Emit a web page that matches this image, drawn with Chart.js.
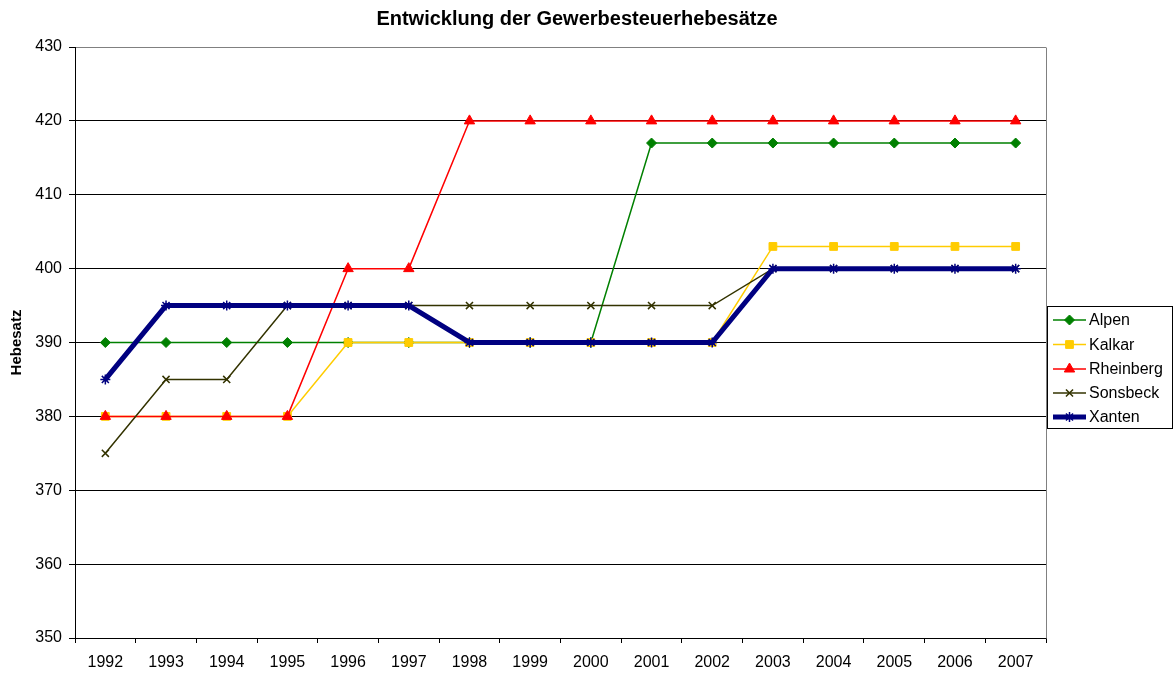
<!DOCTYPE html>
<html>
<head>
<meta charset="utf-8">
<script src="https://cdn.jsdelivr.net/npm/chart.js@4/dist/chart.umd.min.js"></script>
<style>
  html, body { margin: 0; padding: 0; background: #ffffff; }
  #wrap { width: 1175px; height: 673px; position: relative; }
</style>
</head>
<body>
<div id="wrap"><canvas id="c" width="1175" height="673"></canvas></div>
<script>
// ---- Data ----
const years = ['1992','1993','1994','1995','1996','1997','1998','1999','2000','2001','2002','2003','2004','2005','2006','2007'];
const alpen     = [390,390,390,390,390,390,390,390,390,417,417,417,417,417,417,417];
const kalkar    = [380,380,380,380,390,390,390,390,390,390,390,403,403,403,403,403];
const rheinberg = [380,380,380,380,400,400,420,420,420,420,420,420,420,420,420,420];
const sonsbeck  = [375,385,385,395,395,395,395,395,395,395,395,400,400,400,400,400];
const xanten    = [385,395,395,395,395,395,390,390,390,390,390,400,400,400,400,400];
const seriesNames = ['Alpen','Kalkar','Rheinberg','Sonsbeck','Xanten'];
const yTicks = [350,360,370,380,390,400,410,420,430];
const chartTitle = 'Entwicklung der Gewerbesteuerhebesätze';
const yTitle = 'Hebesatz';

const FONT = '"Liberation Sans", Arial, sans-serif';

const styles = [
  { color: '#008000', width: 1.5, pointStyle: 'rectRot',  radius: 5,   pbw: 1,   order: 4 },
  { color: '#FFCC00', width: 1.5, pointStyle: 'rect',     radius: 5.5, pbw: 1,   order: 3 },
  { color: '#FF0000', width: 1.5, pointStyle: 'triangle', radius: 6,   pbw: 1,   order: 2 },
  { color: '#333300', width: 1.5, pointStyle: 'crossRot', radius: 5,   pbw: 1.5, order: 1 },
  { color: '#000080', width: 5,   pointStyle: 'star',     radius: 5,   pbw: 1.5, order: 0 }
];
const seriesData = [alpen, kalkar, rheinberg, sonsbeck, xanten];

const datasets = seriesNames.map((name, i) => ({
  label: name,
  data: seriesData[i],
  borderColor: styles[i].color,
  backgroundColor: styles[i].color,
  borderWidth: styles[i].width,
  pointStyle: styles[i].pointStyle,
  pointRadius: styles[i].radius,
  pointHoverRadius: styles[i].radius,
  pointBackgroundColor: styles[i].color,
  pointBorderColor: styles[i].color,
  pointBorderWidth: styles[i].pbw,
  tension: 0,
  fill: false,
  order: styles[i].order
}));

const framePlugin = {
  id: 'frame',
  afterDraw(chart) {
    const ctx = chart.ctx;
    const a = chart.chartArea;
    ctx.save();
    // right border of plot area
    ctx.strokeStyle = '#808080';
    ctx.lineWidth = 1;
    ctx.beginPath();
    ctx.moveTo(Math.round(a.right) + 0.5, Math.round(a.top) + 0.5);
    ctx.lineTo(Math.round(a.right) + 0.5, Math.round(a.bottom) + 0.5);
    ctx.stroke();

    // title
    ctx.fillStyle = '#000';
    ctx.font = 'bold 20px ' + FONT;
    ctx.textAlign = 'center';
    ctx.textBaseline = 'alphabetic';
    ctx.fillText(chartTitle, 577, 25);

    // legend
    const bx = 1047.5, by = 306.5, bw = 125, bh = 122;
    ctx.strokeStyle = '#000';
    ctx.lineWidth = 1;
    ctx.strokeRect(bx, by, bw, bh);
    const rowY = [320, 344.5, 369, 393, 417];
    ctx.font = '16px ' + FONT;
    ctx.textAlign = 'left';
    ctx.textBaseline = 'middle';
    seriesNames.forEach((name, i) => {
      const s = styles[i];
      const y = rowY[i];
      ctx.strokeStyle = s.color;
      ctx.fillStyle = s.color;
      ctx.lineWidth = s.width;
      ctx.beginPath();
      ctx.moveTo(1053, y);
      ctx.lineTo(1086, y);
      ctx.stroke();
      ctx.lineWidth = s.pbw;
      if (Chart.helpers && Chart.helpers.drawPoint) {
        Chart.helpers.drawPoint(ctx, { pointStyle: s.pointStyle, radius: s.radius, borderWidth: s.pbw, rotation: 0 }, 1069.5, y);
      }
      ctx.fillStyle = '#000';
      ctx.fillText(name, 1089, y + 1);
    });
    ctx.restore();
  }
};

new Chart(document.getElementById('c'), {
  type: 'line',
  data: { labels: years, datasets },
  options: {
    responsive: false,
    animation: false,
    devicePixelRatio: 1,
    layout: { padding: { top: 47, right: 129, bottom: 0, left: 0 } },
    plugins: {
      legend: { display: false },
      title: { display: false },
      tooltip: { enabled: false }
    },
    scales: {
      x: {
        type: 'category',
        offset: true,
        afterFit(scale) { scale.height = 35; },
        grid: {
          display: true,
          offset: true,
          drawOnChartArea: false,
          drawTicks: true,
          tickLength: 5,
          color: '#000',
          lineWidth: 1
        },
        border: { display: true, color: '#000', width: 1 },
        ticks: {
          color: '#000',
          font: { family: FONT, size: 16 },
          padding: 10,
          maxRotation: 0,
          autoSkip: false
        }
      },
      y: {
        min: 350,
        max: 430,
        afterFit(scale) { scale.width = 75; },
        afterBuildTicks(scale) { scale.ticks = yTicks.map(v => ({ value: v })); },
        grid: {
          display: true,
          drawTicks: true,
          tickLength: 6,
          color: (c) => (c.tick && c.tick.value === 430 ? '#808080' : '#000'),
          tickColor: '#000',
          lineWidth: 1
        },
        border: { display: true, color: '#000', width: 1 },
        ticks: {
          color: '#000',
          font: { family: FONT, size: 16 },
          padding: 7,
          stepSize: 10
        },
        title: {
          display: true,
          text: yTitle,
          color: '#000',
          font: { family: FONT, size: 15, weight: 'bold' },
          padding: { top: 8, bottom: 0 }
        }
      }
    }
  },
  plugins: [framePlugin]
});
</script>
</body>
</html>
